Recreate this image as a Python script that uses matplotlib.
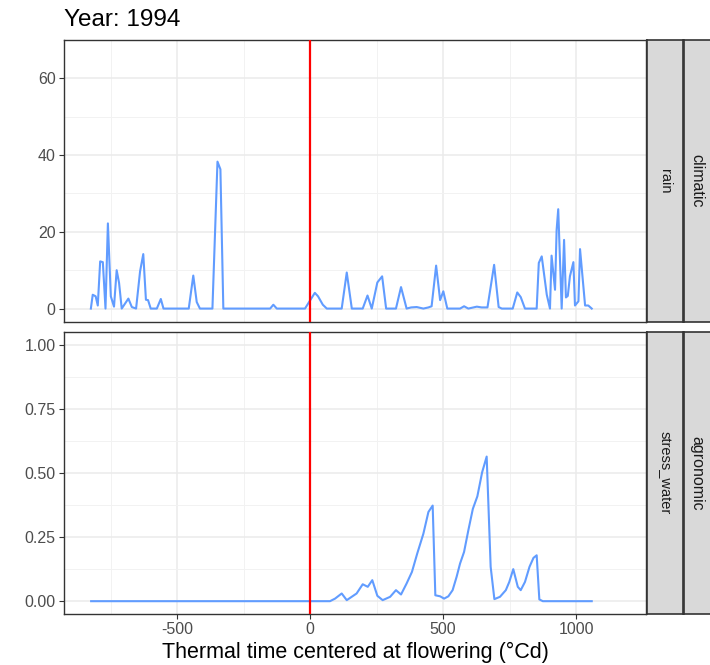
import matplotlib
matplotlib.use("Agg")
import matplotlib.pyplot as plt
import numpy as np

plt.rcParams["font.family"] = ["Liberation Sans", "DejaVu Sans"]

# valeurs
title = "Year: 1994"
xlabel = "Thermal time centered at flowering (°Cd)"
flowering = 0

rain_tt = [-824, -817, -806, -798, -789, -779, -769, -760, -749, -737, -727, -718, -708,
           -683, -670, -654, -639, -627, -617, -609, -599, -576, -561, -551,
           -456, -439, -426, -414, -367, -348, -337, -326, -150, -138, -125, -19,
           18, 30, 48, 63, 119, 138, 157, 198, 216, 232, 253, 271, 286, 323, 342, 363,
           380, 401, 426, 445, 457, 474, 489, 501, 516, 564, 579, 595, 627, 645, 667, 692, 709, 721,
           762, 779, 792, 808, 852, 860, 871, 890, 902, 908, 921, 927, 933, 946, 955, 962, 969,
           977, 990, 996, 1009, 1015, 1034, 1046, 1059]
rain_val = [0, 3.6, 3.2, 0.8, 12.3, 12.1, 0, 22.2, 3.2, 0.5, 10, 6.7, 0,
            2.6, 0.4, 0, 9.7, 14.2, 2.3, 2.2, 0, 0, 2.5, 0,
            0, 8.6, 1.7, 0, 0, 38.3, 36.3, 0, 0, 1.0, 0, 0,
            4.1, 3.2, 1.0, 0, 0, 9.4, 0, 0, 3.4, 0, 6.8, 8.4, 0, 0, 5.6, 0,
            0.3, 0.4, 0, 0.3, 0.6, 11.2, 2.2, 4.5, 0, 0, 0.6, 0, 0.5, 0.3, 0.3, 11.4, 0.4, 0,
            0, 4.2, 3.0, 0, 0, 11.9, 13.6, 3.6, 0, 13.8, 4.9, 20.5, 25.9, 0, 17.9, 2.9, 3.3,
            8.4, 12.1, 0.8, 1.9, 15.5, 0.8, 0.8, 0]

stress_tt = [-823, 75, 94, 119, 138, 175, 198, 217, 234, 253, 273, 301, 323, 342, 363, 383,
             403, 426, 445, 461, 471, 489, 504, 520, 536, 551, 564, 579, 595, 612, 629, 647,
             664, 679, 693, 714, 736, 749, 764, 781, 792, 808, 825, 840, 852, 862, 875, 1059]
stress_val = [0, 0, 0.01, 0.03, 0.004, 0.03, 0.066, 0.056, 0.082, 0.021, 0.004, 0.017, 0.043,
              0.026, 0.069, 0.114, 0.186, 0.263, 0.348, 0.373, 0.023, 0.019, 0.01, 0.019, 0.043,
              0.095, 0.147, 0.192, 0.276, 0.36, 0.409, 0.503, 0.564, 0.134, 0.008, 0.017, 0.043,
              0.075, 0.125, 0.056, 0.043, 0.075, 0.134, 0.169, 0.179, 0.007, 0, 0]

panels = [
    (rain_tt, rain_val, "rain", "climatic", (-3.5, 70), [0, 20, 40, 60], [10, 30, 50, 70], "{:.0f}"),
    (stress_tt, stress_val, "stress_water", "agronomic", (-0.05, 1.05),
     [0, 0.25, 0.5, 0.75, 1.0], [0.125, 0.375, 0.625, 0.875], "{:.2f}"),
]

W, H = 710, 665
fig = plt.figure(figsize=(W / 100, H / 100), dpi=100)

def frac(x0, y0, x1, y1):
    # pixels -> coordonnees de la figure
    return [x0 / W, 1 - y1 / H, (x1 - x0) / W, (y1 - y0) / H]

panel_y = [(40, 322), (332, 614)]
border = "#333333"

for i, (tt, val, lab1, lab2, ylim, yt, ymin, fmt) in enumerate(panels):
    y0, y1 = panel_y[i]
    ax = fig.add_axes(frac(64, y0, 646, y1))
    ax.set_xlim(-925, 1263)
    ax.set_ylim(*ylim)
    ax.set_xticks([-500, 0, 500, 1000])
    ax.set_xticks([-750, -250, 250, 750], minor=True)
    ax.set_yticks(yt)
    ax.set_yticks(ymin, minor=True)
    ax.set_yticklabels([fmt.format(v) for v in yt])
    ax.grid(True, which="major", color="#EBEBEB", linewidth=1.1)
    ax.grid(True, which="minor", color="#F2F2F2", linewidth=0.7)
    ax.set_axisbelow(True)
    ax.tick_params(which="major", length=3.5, pad=2.5, color=border, labelcolor="#4D4D4D", labelsize=11.5)
    ax.tick_params(which="minor", length=0)
    for s in ax.spines.values():
        s.set_color(border)
        s.set_linewidth(1.0)
    ax.plot(tt, val, color="#619CFF", linewidth=1.5, zorder=3)
    ax.axvline(flowering, color="#FF0000", linewidth=1.6, zorder=4)
    if i == 0:
        ax.tick_params(axis="x", labelbottom=False, length=0)
    else:
        ax.set_xticklabels(["-500", "0", "500", "1000"])
        ax.set_xlabel(xlabel, fontsize=15.5, color="black", labelpad=3.5)

    # bandeaux a droite (facettes)
    for j, (sx0, sx1, txt, fs) in enumerate([(647, 683, lab1, 10.5), (684, 720, lab2, 11.5)]):
        sa = fig.add_axes(frac(sx0, y0, sx1, y1))
        sa.set_facecolor("#D9D9D9")
        sa.set_xticks([])
        sa.set_yticks([])
        for s in sa.spines.values():
            s.set_color(border)
            s.set_linewidth(1.2)
        tx = 0.5 if j == 0 else 0.36
        sa.text(tx, 0.5, txt, rotation=-90, ha="center", va="center",
                fontsize=fs, color="#1A1A1A", transform=sa.transAxes)

fig.text(64 / W, 1 - 26 / H, title, fontsize=17.5, color="black", ha="left", va="baseline")

plt.savefig("out.png", dpi=100)
